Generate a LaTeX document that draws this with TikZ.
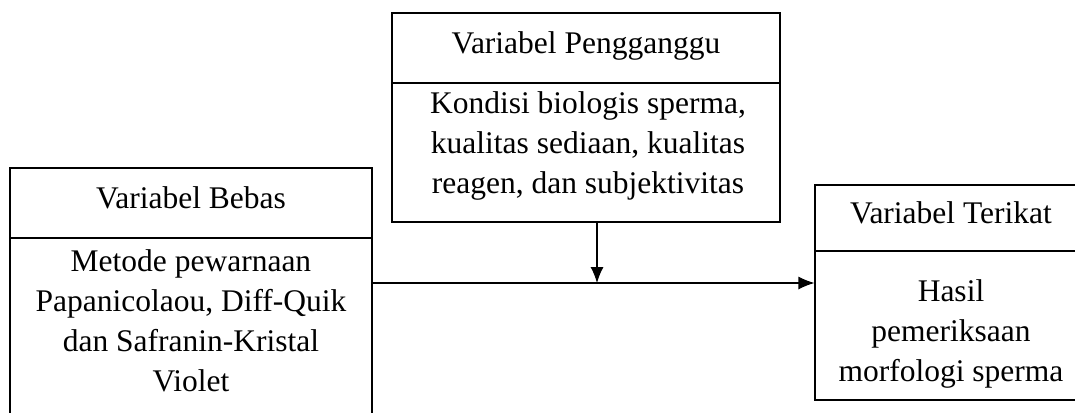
\documentclass[tikz,border=0pt]{standalone}
\usepackage{fontspec}
\setmainfont{Liberation Serif}
\usetikzlibrary{arrows.meta}
\begin{document}
\begin{tikzpicture}[x=1pt,y=-1pt,
  box/.style={draw, line width=1.1pt, inner sep=0pt, rectangle},
  txt/.style={font=\fontsize{31.5}{40}\selectfont, align=center, inner sep=0pt},
  arr/.style={line width=1.1pt, -{Latex[length=16pt,width=13pt]}}]
\useasboundingbox (0,0) rectangle (1075,412);
\clip (0,0) rectangle (1075,412);
% frames
\node[box, minimum width=362pt, minimum height=70pt] (lhead) at (191,203) {};
\node[box, minimum width=362pt, minimum height=202pt] (lbody) at (191,339) {};
\node[box, minimum width=388pt, minimum height=70pt] (thead) at (586,48) {};
\node[box, minimum width=388pt, minimum height=139pt] (tbody) at (586,152.5) {};
\node[box, minimum width=285pt, minimum height=66pt] (rhead) at (957.5,218) {};
\node[box, minimum width=285pt, minimum height=149pt] (rbody) at (957.5,325.5) {};
% texts
\node[txt, anchor=base] (lheadtxt) at (191,208) {Variabel Bebas};
\node[txt, anchor=base] (theadtxt) at (586,53) {Variabel Pengganggu};
\node[txt, anchor=base] (rheadtxt) at (951,223) {Variabel Terikat};
\node[txt] (lbodytxt) at (191,321) {Metode pewarnaan\\Papanicolaou, Diff-Quik\\dan Safranin-Kristal\\Violet};
\node[txt] (tbodytxt) at (588,146) {Kondisi biologis sperma,\\kualitas sediaan, kualitas\\reagen, dan subjektivitas};
\node[txt] (rbodytxt) at (951,334) {Hasil\\pemeriksaan\\morfologi sperma};
% connectors
\coordinate (j) at (597,283);
\draw[arr] (j |- tbody.south) -- (j);
\draw[arr] (lbody.east |- j) -- (rbody.west |- j);
\end{tikzpicture}
\end{document}
